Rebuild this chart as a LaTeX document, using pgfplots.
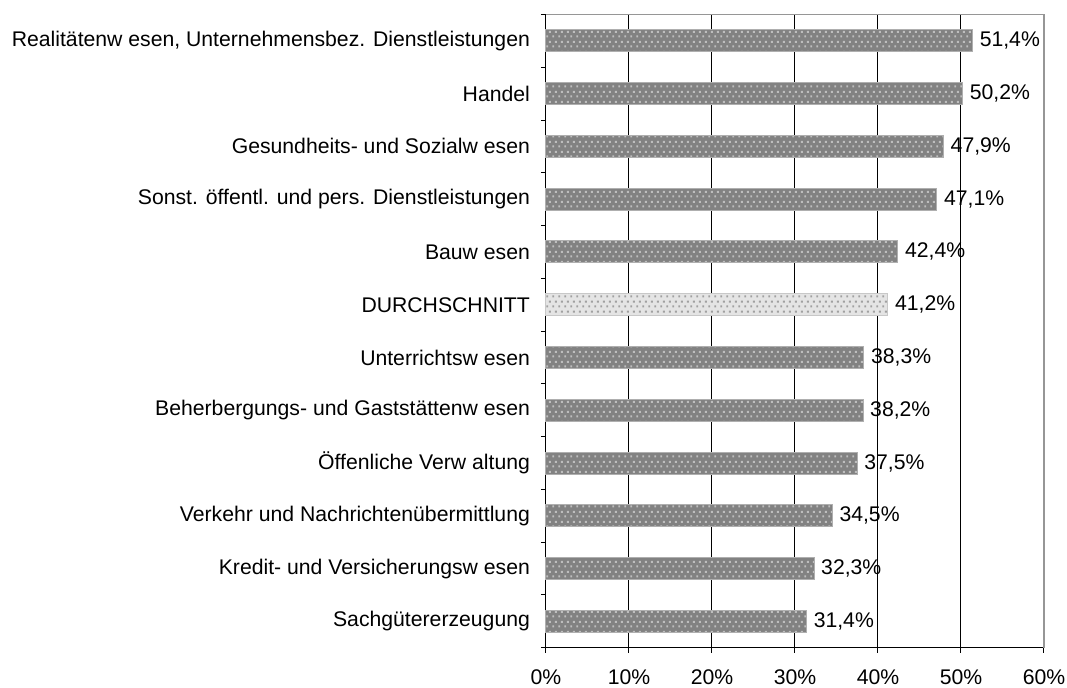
\documentclass[border=0pt]{standalone}
\usepackage{pgfplots}
\pgfplotsset{compat=1.18}
\usepackage{fontspec}
\setmainfont{Liberation Sans}
\usetikzlibrary{patterns.meta}
\definecolor{barfill}{RGB}{130,130,130}
\definecolor{bardot}{RGB}{190,190,190}
\definecolor{baredge}{RGB}{175,175,175}
\definecolor{avgfill}{RGB}{228,228,228}
\definecolor{avgdot}{RGB}{160,160,160}
\definecolor{avgedge}{RGB}{200,200,200}
\definecolor{border}{RGB}{150,150,150}
\tikzdeclarepattern{
  name=sqdots,
  type=uncolored,
  bounding box={(0pt,0pt) and (3pt,5pt)},
  tile size={(3pt,5pt)},
  code={
    \fill (0.2pt,0.3pt) rectangle (1.3pt,1.4pt);
    \fill (1.7pt,2.8pt) rectangle (2.8pt,3.9pt);
  }
}
\newcommand{\lblfont}{\fontsize{10.6}{12.8}\selectfont}
\begin{document}
\begin{tikzpicture}
\path[use as bounding box] (-273pt,-19.65pt) rectangle (260.5pt,323.85pt);
\begin{axis}[
  at={(0,0)}, anchor=south west,
  scale only axis, width=249pt, height=316.6pt,
  xbar, bar width=11pt, bar shift=0pt,
  xmin=0, xmax=60, ymin=-0.5, ymax=11.5,
  axis lines*=left,
  axis line style={black, line width=0.5pt},
  /pgf/number format/assume math mode=true,
  xtick={0,10,...,60},
  xticklabels={0\%,10\%,20\%,30\%,40\%,50\%,60\%},
  ytick={0,...,11},
  yticklabels={Sachgütererzeugung,
    Kredit- und Versicherungsw esen,
    Verkehr und Nachrichtenübermittlung,
    Öffenliche Verw altung,
    Beherbergungs- und Gaststättenw esen,
    Unterrichtsw esen,
    DURCHSCHNITT,
    Bauw esen,
    Sonst. öffentl. und pers. Dienstleistungen\hspace{3pt},
    Gesundheits- und Sozialw esen,
    Handel,
    {Realitätenw esen, Unternehmensbez. Dienstleistungen}},
  minor ytick={-0.5,0.5,...,11.5},
  tick align=outside,
  major tick length=2.5pt, minor tick length=2.5pt,
  major y tick style={draw=none},
  minor y tick style={black, line width=0.5pt},
  major x tick style={black, line width=0.5pt},
  xmajorgrids, major grid style={black, line width=0.5pt},
  tick label style={font=\lblfont, text=black},
  yticklabel style={xshift=-2pt},
  xticklabel style={yshift=-5pt},
  point meta=x,
  nodes near coords={\pgfmathprintnumber[fixed,fixed zerofill,precision=1,use comma]{\pgfplotspointmeta}\%},
  nodes near coords align=horizontal,
  every node near coord/.append style={font=\lblfont, text=black},
  clip=false,
]
\addplot[fill=barfill, draw=baredge, line width=0.5pt,
  postaction={pattern=sqdots, pattern color=bardot}]
  coordinates {(51.4,11) (50.2,10) (47.9,9) (47.1,8) (42.4,7)
               (38.3,5) (38.2,4) (37.5,3) (34.5,2) (32.3,1) (31.4,0)};
\addplot[fill=avgfill, draw=avgedge, line width=0.5pt,
  postaction={pattern=sqdots, pattern color=avgdot}]
  coordinates {(41.2,6)};
\draw[border, line width=0.8pt] (rel axis cs:0,1) -- (rel axis cs:1,1) -- (rel axis cs:1,0);
\end{axis}
\end{tikzpicture}
\end{document}
